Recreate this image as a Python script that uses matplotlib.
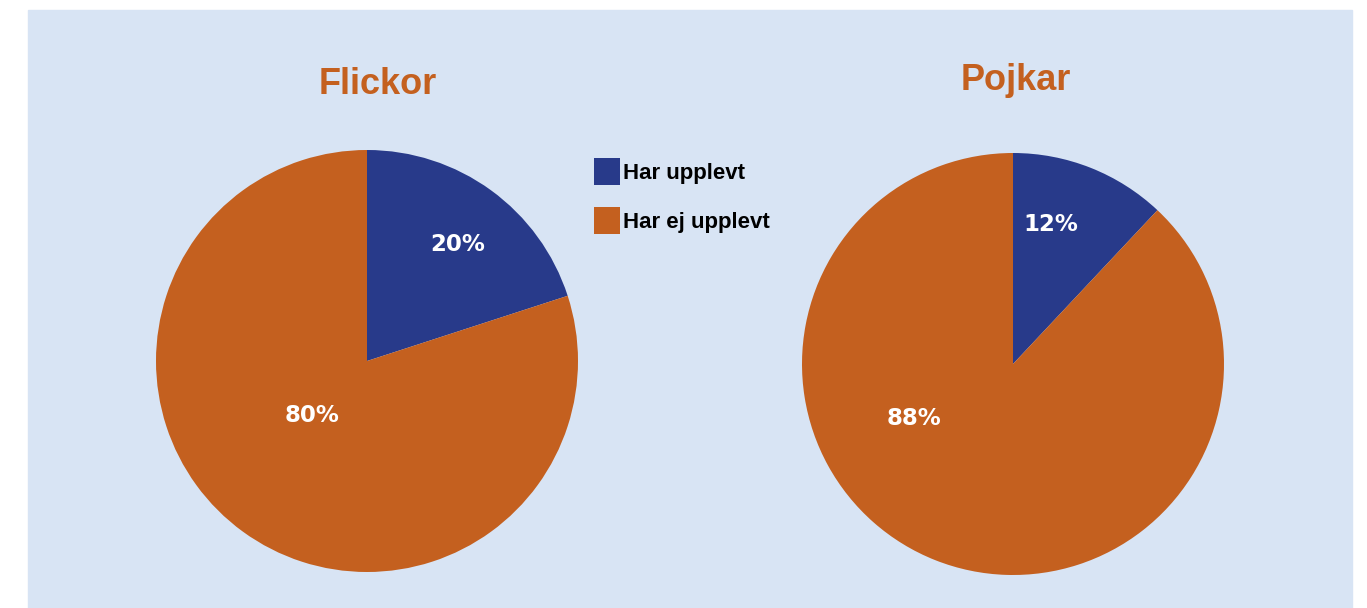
import matplotlib.pyplot as plt
from matplotlib.patches import Patch, Rectangle

groups = ["Flickor", "Pojkar"]
categories = ["Har upplevt", "Har ej upplevt"]
values = [[20, 80], [12, 88]]

blue = "#283a8a"
orange = "#c4601f"
panel = "#d8e4f4"

W, H = 1367, 608
fig = plt.figure(figsize=(W / 100, H / 100), dpi=100)
fig.patch.set_facecolor("white")
fig.patches.append(Rectangle((28 / W, 0), (1352 - 28) / W, (H - 10) / H,
                             transform=fig.transFigure, color=panel, zorder=-5))

# pie centres / radius in pixels, title positions, label positions (axes coords)
centres = [(367, 361), (1013, 364)]
radius = 211
title_pos = [(378, 85), (1016, 80)]
label_pos = [[(0.43, 0.55), (-0.26, -0.26)],
             [(0.18, 0.66), (-0.47, -0.26)]]

for i, g in enumerate(groups):
    cx, cy = centres[i]
    ax = fig.add_axes([(cx - radius) / W, (H - cy - radius) / H,
                       2 * radius / W, 2 * radius / H])
    ax.set_zorder(1)
    wedges, texts, autotexts = ax.pie(values[i], colors=[blue, orange],
                                      startangle=90, counterclock=False,
                                      autopct="%d%%", radius=1,
                                      textprops=dict(color="white", fontsize=16.5,
                                                     fontweight="bold",
                                                     family="DejaVu Sans"))
    for t, p in zip(autotexts, label_pos[i]):
        t.set_position(p)
    ax.set_xlim(-1, 1)
    ax.set_ylim(-1, 1)
    ax.set_aspect("equal")
    ax.axis("off")
    tx, ty = title_pos[i]
    fig.text(tx / W, 1 - ty / H, g, ha="center", va="center", color=orange,
             fontsize=26, fontweight="bold", family="Liberation Sans")

handles = [Patch(facecolor=blue), Patch(facecolor=orange)]
leg = fig.legend(handles, categories, loc="upper left",
                 bbox_to_anchor=(590 / W, 1 - 154 / H), frameon=False,
                 prop=dict(family="Liberation Sans", weight="bold", size=16),
                 handlelength=1.15, handleheight=1.45, handletextpad=0.15,
                 labelspacing=1.02, borderaxespad=0, borderpad=0.2)
leg.set_zorder(2)

fig.savefig("out.png", dpi=100, facecolor=fig.get_facecolor())
